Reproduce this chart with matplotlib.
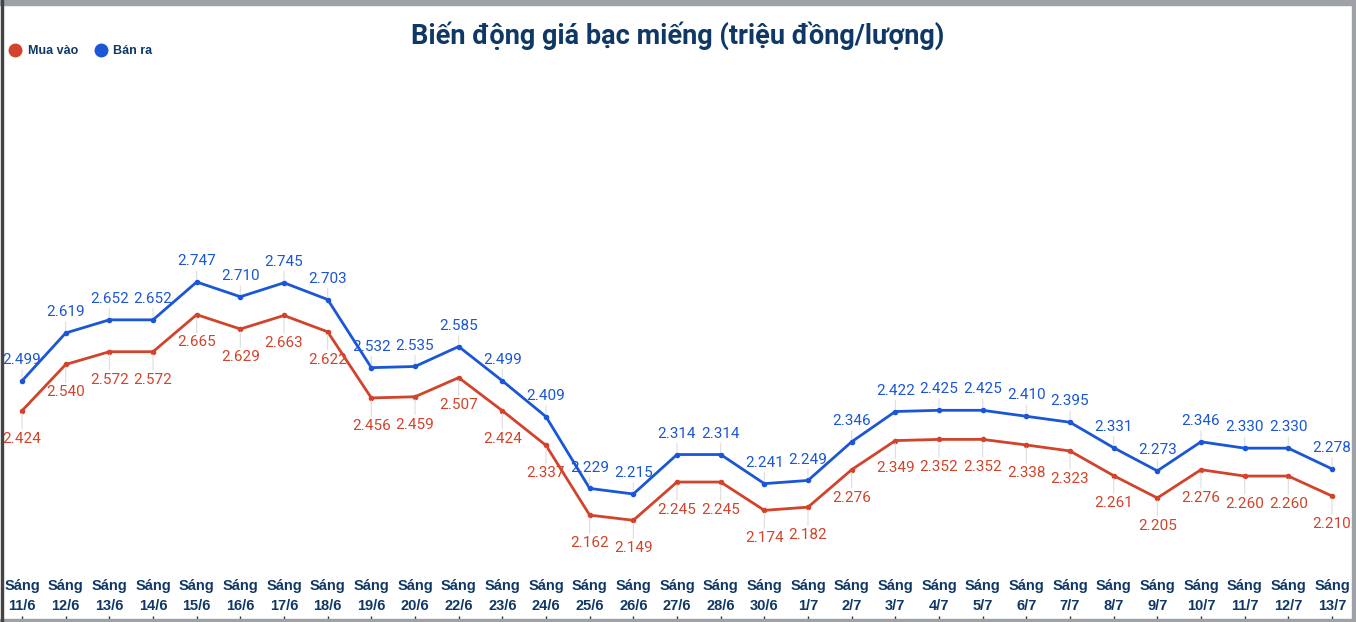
import matplotlib
matplotlib.use("Agg")
import matplotlib.pyplot as plt
from matplotlib.lines import Line2D
from matplotlib.patches import Rectangle
from matplotlib.transforms import blended_transform_factory

# Dữ liệu
dates = ["11/6", "12/6", "13/6", "14/6", "15/6", "16/6", "17/6", "18/6", "19/6", "20/6",
         "22/6", "23/6", "24/6", "25/6", "26/6", "27/6", "28/6", "30/6", "1/7", "2/7",
         "3/7", "4/7", "5/7", "6/7", "7/7", "8/7", "9/7", "10/7", "11/7", "12/7", "13/7"]
ban_ra = [2.499, 2.619, 2.652, 2.652, 2.747, 2.710, 2.745, 2.703, 2.532, 2.535,
          2.585, 2.499, 2.409, 2.229, 2.215, 2.314, 2.314, 2.241, 2.249, 2.346,
          2.422, 2.425, 2.425, 2.410, 2.395, 2.331, 2.273, 2.346, 2.330, 2.330, 2.278]
mua_vao = [2.424, 2.540, 2.572, 2.572, 2.665, 2.629, 2.663, 2.622, 2.456, 2.459,
           2.507, 2.424, 2.337, 2.162, 2.149, 2.245, 2.245, 2.174, 2.182, 2.276,
           2.349, 2.352, 2.352, 2.338, 2.323, 2.261, 2.205, 2.276, 2.260, 2.260, 2.210]

BLUE = "#1a56d6"
RED = "#d2432b"
NAVY = "#0f3866"

fig = plt.figure(figsize=(13.56, 6.22), dpi=100)
ax = fig.add_axes([0, 0, 1, 1])

x = list(range(len(dates)))
ax.plot(x, ban_ra, color=BLUE, lw=2, marker="o", ms=3, zorder=3)
ax.plot(x, mua_vao, color=RED, lw=2, marker="o", ms=3, zorder=3)

ax.set_xlim(-0.504, 30.55)
ax.set_ylim(1.8938, 3.4546)

# nhãn giá trị + đường nối mảnh
for i in x:
    vb, vm = ban_ra[i], mua_vao[i]
    ax.annotate(f"{vb:.3f}", (i, vb), xytext=(0, 10), textcoords="offset points",
                ha="center", va="bottom", color=BLUE, fontsize=11, family="Roboto",
                arrowprops=dict(arrowstyle="-", color="#dddddd", lw=0.8,
                                shrinkA=0, shrinkB=2))
    ax.annotate(f"{vm:.3f}", (i, vm), xytext=(0, -15), textcoords="offset points",
                ha="center", va="top", color=RED, fontsize=11, family="Roboto",
                arrowprops=dict(arrowstyle="-", color="#dddddd", lw=0.8,
                                shrinkA=0, shrinkB=2))

# nhãn trục x
trans = blended_transform_factory(ax.transData, fig.transFigure)
for i, d in enumerate(dates):
    fig.text(i, 1 - 596 / 622, f"Sáng\n{d}", transform=trans, ha="center", va="center",
             fontsize=10.5, fontweight="bold", color=NAVY, family="Liberation Sans",
             linespacing=1.55)

ax.set_xticks(x)
ax.set_xticklabels([])
ax.set_yticks([])
ax.tick_params(axis="x", direction="in", length=4, color="#333333", width=1)
for s in ax.spines.values():
    s.set_visible(False)

# khung
fig.patches.append(Rectangle((0, 1 - 5 / 622), 1, 5 / 622, transform=fig.transFigure,
                             color="#9ea2a6", zorder=10))
fig.patches.append(Rectangle((1 - 4 / 1356, 0), 4 / 1356, 1, transform=fig.transFigure,
                             color="#9ea2a6", zorder=10))
fig.patches.append(Rectangle((0, 0), 1, 3 / 622, transform=fig.transFigure,
                             color="#9ea2a6", zorder=10))
fig.patches.append(Rectangle((1 / 1356, 0), 2 / 1356, 1, transform=fig.transFigure,
                             color="#444444", zorder=10))

fig.text(0.5, 1 - 36 / 622, "Biến động giá bạc miếng (triệu đồng/lượng)", ha="center",
         va="center", fontsize=19.5, fontweight="bold", color=NAVY, family="Roboto")

handles = [Line2D([], [], ls="", marker="o", ms=9, color=RED),
           Line2D([], [], ls="", marker="o", ms=9, color=BLUE)]
leg = fig.legend(handles, ["Mua vào", "Bán ra"], loc="center left",
                 bbox_to_anchor=(0.003, 1 - 51 / 622), ncol=2, frameon=False,
                 handletextpad=0.5, columnspacing=1.3, borderaxespad=0,
                 handlelength=1.0, prop=dict(family="Liberation Sans", weight="bold", size=9))
for t in leg.get_texts():
    t.set_color(NAVY)

fig.savefig("out.png", dpi=100)
